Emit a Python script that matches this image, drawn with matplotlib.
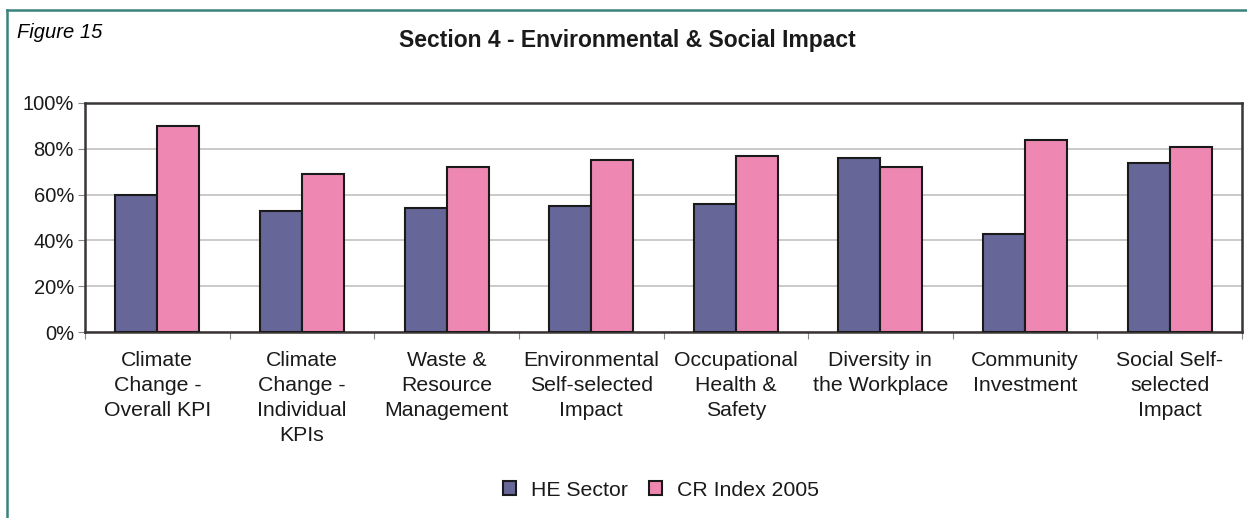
import matplotlib
matplotlib.use("Agg")
import matplotlib.pyplot as plt
import numpy as np

categories = ["Climate\nChange -\nOverall KPI", "Climate\nChange -\nIndividual\nKPIs",
              "Waste &\nResource\nManagement", "Environmental\nSelf-selected\nImpact",
              "Occupational\nHealth &\nSafety", "Diversity in\nthe Workplace",
              "Community\nInvestment", "Social Self-\nselected\nImpact"]
he_sector = [60, 53, 54, 55, 56, 76, 43, 74]
cr_index = [90, 69, 72, 75, 77, 72, 84, 81]
series_names = ["HE Sector", "CR Index 2005"]
yticks = [0, 20, 40, 60, 80, 100]

plt.rcParams['font.family'] = ['Liberation Sans', 'DejaVu Sans']

fig = plt.figure(figsize=(12.47, 5.18), dpi=100)
ax = fig.add_axes([85/1247, 1 - 332/518, (1242-85)/1247, (332-103)/518])

x = np.arange(len(categories))
w = 0.29
ax.bar(x - w/2, he_sector, w, color="#666699", edgecolor="#1a1a1a", linewidth=1.5,
       label=series_names[0], zorder=3)
ax.bar(x + w/2, cr_index, w, color="#ee88b2", edgecolor="#1a1a1a", linewidth=1.5,
       label=series_names[1], zorder=3)

ax.set_xlim(-0.5, len(categories) - 0.5)
ax.set_ylim(0, 100)
ax.set_yticks(yticks)
ax.set_yticklabels([f"{v}%" for v in yticks], fontsize=14.5, color="#1a1a1a")
ax.yaxis.grid(True, color="#c4c0c0", linewidth=1.2, zorder=0)
ax.set_axisbelow(True)
for s in ax.spines.values():
    s.set_color("#3a3535")
    s.set_linewidth(1.8)

# category labels & boundary ticks
ax.set_xticks(np.arange(len(categories) + 1) - 0.5)
ax.set_xticklabels([])
ax.tick_params(axis='x', length=5, color="#888888", direction='out')
ax.tick_params(axis='y', length=5, color="#888888", direction='out', pad=3)
for i, c in enumerate(categories):
    ax.text(i, -8.5, c, ha='center', va='top', fontsize=15.3, linespacing=1.38,
            transform=ax.transData, color="#1a1a1a")

fig.text(17/1247, 1 - 33/518, "Figure 15", fontsize=14.5, style='italic', va='center', ha='left')
fig.text(627/1247, 1 - 40/518, "Section 4 - Environmental & Social Impact", fontsize=16.5,
         weight='bold', va='center', ha='center', color="#1a1a1a")

leg = fig.legend(loc='center', bbox_to_anchor=(661/1247, 1 - 490/518), ncol=2, frameon=False,
                 fontsize=15.3, handlelength=0.6, handleheight=0.6, columnspacing=1.0,
                 handletextpad=0.7)
for t in leg.get_texts():
    t.set_color("#1a1a1a")

# outer frame (left and top edges only)
frame_col = "#3a827c"
fig.add_artist(plt.Line2D([7/1247, 7/1247], [0, 1 - 10/518], color=frame_col, lw=1.8,
                          transform=fig.transFigure))
fig.add_artist(plt.Line2D([7/1247, 1], [1 - 10/518, 1 - 10/518], color=frame_col, lw=1.8,
                          transform=fig.transFigure))

fig.savefig("out.png", dpi=100)
